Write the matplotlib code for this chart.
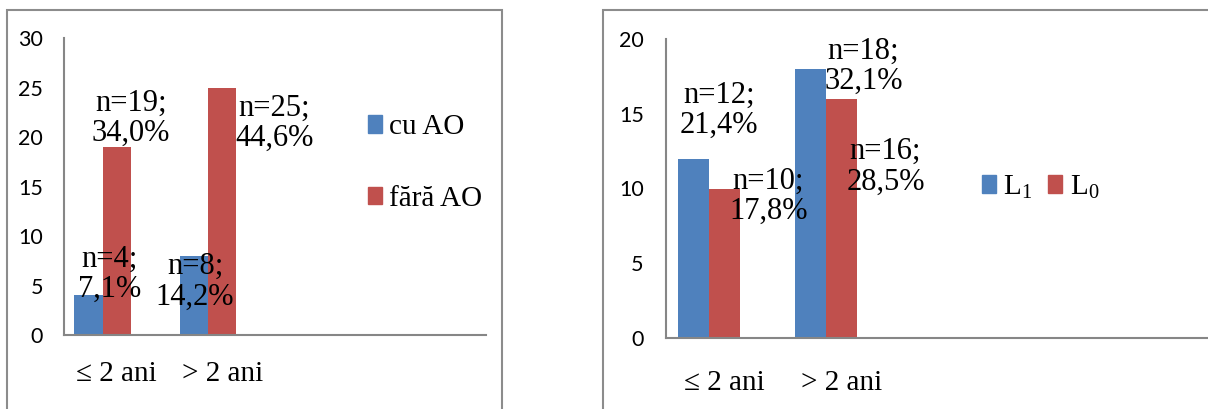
import numpy as np
import matplotlib
matplotlib.use("Agg")
import matplotlib.pyplot as plt
from matplotlib.patches import Rectangle, Patch

plt.rcParams['mathtext.fontset'] = 'custom'
plt.rcParams['mathtext.rm'] = 'Liberation Serif'

W, H = 1208, 409

# date
categorii = ["≤ 2 ani", "> 2 ani"]
cu_ao = [4, 8]
fara_ao = [19, 25]
etich_cu_ao = ["n=4;\n7,1%", "n=8;\n14,2%"]
etich_fara_ao = ["n=19;\n34,0%", "n=25;\n44,6%"]

l1 = [12, 18]
l0 = [10, 16]
etich_l1 = ["n=12;\n21,4%", "n=18;\n32,1%"]
etich_l0 = ["n=10;\n17,8%", "n=16;\n28,5%"]

albastru = "#4F81BD"
rosu = "#C0504D"
gri = "#8C8C8C"
serif = "Liberation Serif"


def px_box(x0, y0, x1, y1):
    # pixeli (de sus) -> fractii din figura
    return [x0 / W, 1 - y1 / H, (x1 - x0) / W, (y1 - y0) / H]


def grafic(ax, serie1, serie2, et1, et2, off1, off2, ncat, ymax, ystep,
           xpad, ypad):
    x = np.arange(len(categorii))
    w = 0.267
    b1 = ax.bar(x - w, serie1, w, color=albastru, align='center')
    b2 = ax.bar(x, serie2, w, color=rosu, align='center')
    ax.set_xlim(-0.5, ncat - 0.5)
    ax.set_ylim(0, ymax)
    ax.set_yticks(np.arange(0, ymax + 1, ystep))
    ax.set_xticks(x)
    ax.set_xticklabels(categorii, fontfamily=serif, fontsize=21)
    for lab in ax.get_yticklabels():
        lab.set_fontfamily("Lato")
        lab.set_fontsize(15.5)
    ax.tick_params(axis='x', length=0, pad=xpad)
    ax.tick_params(axis='y', length=0, pad=ypad)
    for s in ["top", "right"]:
        ax.spines[s].set_visible(False)
    for s in ["left", "bottom"]:
        ax.spines[s].set_color("#868686")
        ax.spines[s].set_linewidth(1.5)
    # etichete n / procent
    for bars, ets, offs in ((b1, et1, off1), (b2, et2, off2)):
        for b, t, (dx, dy) in zip(bars, ets, offs):
            ax.annotate(t, (b.get_x() + b.get_width() / 2, b.get_height()),
                        xytext=(dx, dy), textcoords='offset pixels',
                        ha='center', va='center', fontfamily=serif,
                        fontsize=22, linespacing=1.05, annotation_clip=False)
    return b1, b2


fig = plt.figure(figsize=(W / 100, H / 100), dpi=100)

# chenarele celor doua diagrame
for (x0, y0, x1, y1) in [(7, 10, 502, 420), (603, 10, 1230, 420)]:
    fig.patches.append(Rectangle((x0 / W, 1 - y1 / H), (x1 - x0) / W,
                                 (y1 - y0) / H, transform=fig.transFigure,
                                 fill=False, edgecolor=gri, linewidth=1.5))

ax1 = fig.add_axes(px_box(64, 38, 486, 335))
grafic(ax1, cu_ao, fara_ao, etich_cu_ao, etich_fara_ao,
       [(21, 21), (1, -26)], [(14, 29), (52, -36)], 4, 30, 5, 19, 15)
h1 = [Patch(color=albastru), Patch(color=rosu)]
fig.legend(h1, ["cu AO", "fără AO"], loc='center left',
           bbox_to_anchor=(368 / W, 1 - 163 / H), frameon=False,
           prop={'family': serif, 'size': 21}, borderpad=0,
           borderaxespad=0, handlelength=0.48, handleheight=0.55,
           handletextpad=0.25, labelspacing=1.55)

ax2 = fig.add_axes(px_box(666, 39, 1251, 338))
grafic(ax2, l1, l0, etich_l1, etich_l0,
       [(26, 48), (53, 3)], [(44, -8), (44, -68)], 5, 20, 5, 23, 16)
h2 = [Patch(color=albastru), Patch(color=rosu)]
fig.legend(h2, [r"L$_\mathrm{1}$", r"L$_\mathrm{0}$"], loc='center left',
           bbox_to_anchor=(982 / W, 1 - 187 / H), frameon=False, ncol=2,
           prop={'family': serif, 'size': 21}, borderpad=0,
           borderaxespad=0, handlelength=0.48, handleheight=0.6,
           handletextpad=0.25, columnspacing=0.55)

fig.savefig("out.png", dpi=100)
